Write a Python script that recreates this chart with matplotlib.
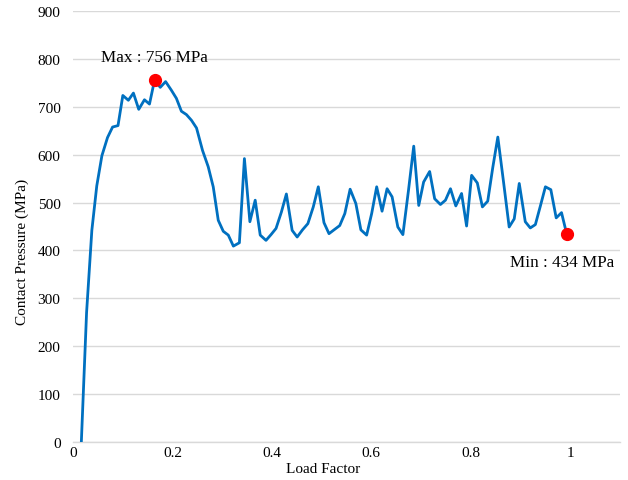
import matplotlib
matplotlib.use('Agg')
import matplotlib.pyplot as plt

plt.rcParams['font.family'] = ['Liberation Serif', 'DejaVu Serif']

load_factor = [0.0168, 0.0273, 0.0379, 0.0478, 0.0581, 0.0694, 0.0796, 0.0905, 0.1002, 0.1113,
               0.1215, 0.1322, 0.1437, 0.1538, 0.1640, 0.1755, 0.1862, 0.1978, 0.2079, 0.2180,
               0.2281, 0.2383, 0.2484, 0.2605, 0.2719, 0.2820, 0.2921, 0.3022, 0.3123, 0.3225,
               0.3346, 0.3447, 0.3557, 0.3664, 0.3765, 0.3881, 0.3982, 0.4083, 0.4190, 0.4291,
               0.4407, 0.4508, 0.4615, 0.4723, 0.4832, 0.4933, 0.5047, 0.5148, 0.5249, 0.5364,
               0.5466, 0.5573, 0.5688, 0.5789, 0.5905, 0.6006, 0.6107, 0.6215, 0.6316, 0.6417,
               0.6532, 0.6634, 0.6747, 0.6852, 0.6953, 0.7051, 0.7172, 0.7273, 0.7389, 0.7490,
               0.7591, 0.7698, 0.7814, 0.7915, 0.8016, 0.8131, 0.8233, 0.8340, 0.8441, 0.8543,
               0.8658, 0.8771, 0.8873, 0.8974, 0.9095, 0.9196, 0.9298, 0.9399, 0.9500, 0.9609,
               0.9717, 0.9824, 0.9929]
pressure = [0, 270, 442, 535, 598, 636, 658, 661, 724, 714,
            729, 695, 715, 706, 756, 741, 753, 735, 718, 691,
            684, 672, 656, 609, 575, 533, 463, 440, 432, 409,
            416, 592, 460, 505, 432, 421, 433, 446, 480, 518,
            442, 428, 443, 456, 491, 533, 458, 435, 443, 452,
            477, 528, 498, 443, 432, 477, 533, 482, 529, 512,
            449, 433, 526, 618, 494, 543, 565, 508, 496, 505,
            529, 493, 519, 451, 557, 541, 491, 503, 573, 637,
            543, 449, 466, 540, 460, 447, 454, 493, 533, 527,
            468, 479, 434]

max_label = 'Max : 756 MPa'
min_label = 'Min : 434 MPa'
x_ticks = [0, 0.2, 0.4, 0.6, 0.8, 1]
x_tick_labels = ['0', '0.2', '0.4', '0.6', '0.8', '1']
y_ticks = [0, 100, 200, 300, 400, 500, 600, 700, 800, 900]

fig = plt.figure(figsize=(6.28, 4.81), dpi=100)
ax = fig.add_axes([73 / 628, 38.3 / 481, 547 / 628, 430.4 / 481])

ax.plot(load_factor, pressure, color='#0070C0', linewidth=2.0, zorder=3)

i_max = pressure.index(max(pressure))
i_min = len(pressure) - 1
ax.plot(load_factor[i_max], pressure[i_max], 'o', color='#FF0000', markersize=8.5, zorder=4)
ax.plot(load_factor[i_min], pressure[i_min], 'o', color='#FF0000', markersize=8.5, zorder=4)
ax.annotate(max_label, (load_factor[i_max], pressure[i_max]), xytext=(0, 17),
            textcoords='offset points', ha='center', va='center', fontsize=12.3)
ax.annotate(min_label, (load_factor[i_min], pressure[i_min]), xytext=(-3, -20),
            textcoords='offset points', ha='center', va='center', fontsize=12.3)

ax.set_xlim(0, 1.1)
ax.set_ylim(0, 900)
ax.set_xticks(x_ticks)
ax.set_xticklabels(x_tick_labels)
ax.set_yticks(y_ticks)
ax.tick_params(axis='both', length=0, labelsize=11)
ax.tick_params(axis='y', pad=9)
ax.tick_params(axis='x', pad=3)
ax.grid(axis='y', color='#D9D9D9', linewidth=1)
ax.set_axisbelow(True)
for s in ['top', 'right', 'left']:
    ax.spines[s].set_visible(False)
ax.spines['bottom'].set_color('#D9D9D9')
ax.spines['bottom'].set_linewidth(1)

fig.text(323 / 628, 1 - 470 / 481, 'Load Factor', ha='center', va='center', fontsize=11)
fig.text(22 / 628, 1 - 252 / 481, 'Contact Pressure (MPa)', ha='center', va='center',
         rotation=90, fontsize=11)

fig.savefig('out.png', dpi=100)
